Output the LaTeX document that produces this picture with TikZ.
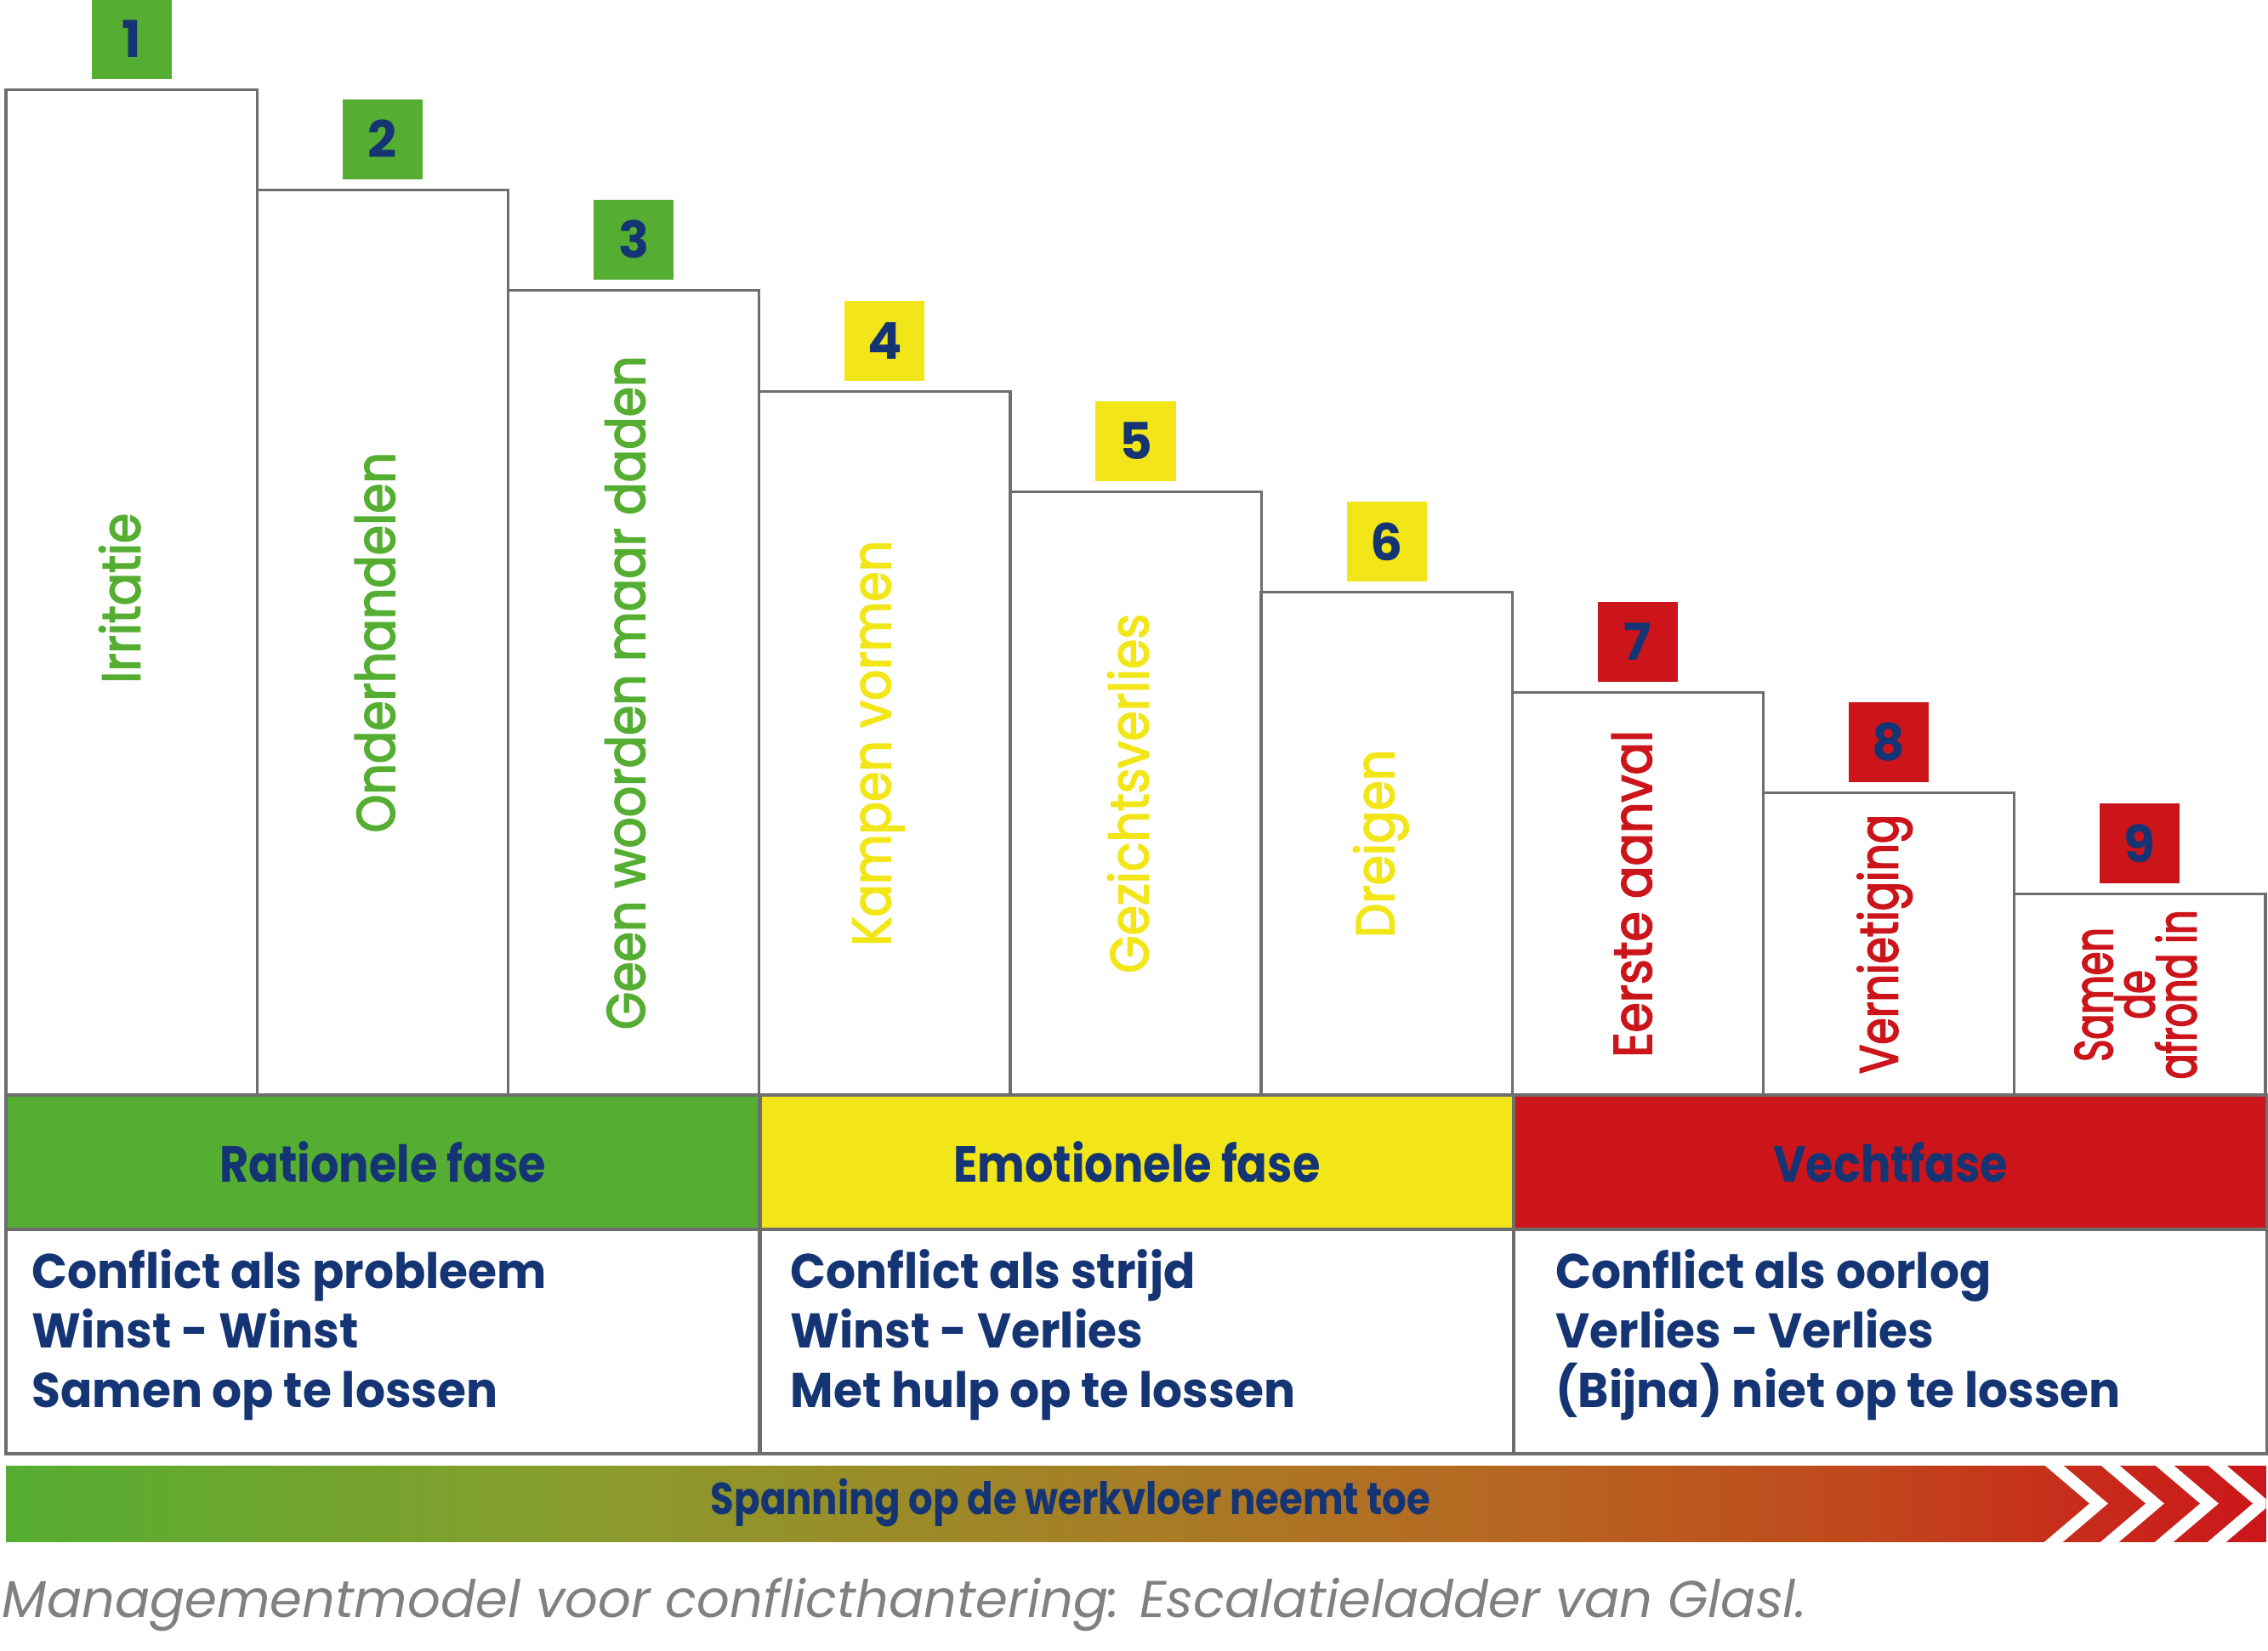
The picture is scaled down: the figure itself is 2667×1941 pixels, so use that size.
\documentclass[tikz,border=0pt]{standalone}
\usepackage{fontspec}
\setmainfont{Poppins}
\newfontfamily\condfont{Poppins}[FakeStretch=0.88]
\newfontfamily\stepfont{Poppins}[FakeStretch=0.9,FakeBold=2.5]
\newfontfamily\squeezefont{Poppins}[FakeStretch=0.8,FakeBold=2.5]
\newfontfamily\narrowfont{Poppins}[FakeStretch=0.7,FakeBold=2.5]
\newfontfamily\bodyfont{Poppins}[FakeStretch=0.96]
\usetikzlibrary{positioning}
\definecolor{ladgreen}{RGB}{85,174,50}
\definecolor{ladyellow}{RGB}{242,230,25}
\definecolor{ladred}{RGB}{204,21,26}
\definecolor{ladnavy}{RGB}{20,52,116}
\definecolor{ladgray}{RGB}{110,110,110}
\definecolor{capgray}{RGB}{128,128,128}
\definecolor{gradolive}{RGB}{138,156,44}
\definecolor{gradbrown}{RGB}{165,128,38}
\definecolor{gradorange}{RGB}{182,104,34}
\definecolor{gradrust}{RGB}{192,72,28}
\pgfdeclarehorizontalshading{tension}{100bp}{color(0bp)=(ladgreen); color(25bp)=(ladgreen);
  color(38bp)=(gradolive); color(49bp)=(gradbrown); color(58bp)=(gradorange);
  color(66bp)=(gradrust); color(75bp)=(ladred); color(100bp)=(ladred)}

\begin{document}
\begin{tikzpicture}[x=0.01cm,y=-0.01cm,
  stepbox/.style={draw=ladgray,line width=0.9pt,minimum width=2.952cm,anchor=south west,inner sep=0pt,outer sep=0pt},
  numbox/.style={fill=#1,minimum size=0.94cm,inner sep=0pt,text=ladnavy,font=\fontsize{17}{17}\selectfont\bfseries},
  steplbl/.style={rotate=90,text=#1,font=\stepfont\fontsize{18}{20}\selectfont,inner sep=0pt},
  phase/.style={draw=ladgray,line width=1.2pt,fill=#1,minimum width=8.86cm,minimum height=1.58cm,inner sep=0pt,outer sep=0pt,text=ladnavy,font=\condfont\fontsize{17}{17}\selectfont\bfseries},
  content/.style={draw=ladgray,line width=1.2pt,minimum width=8.86cm,minimum height=2.64cm,inner sep=0pt,outer sep=0pt},
  ctext/.style={anchor=west,align=left,inner sep=0pt,text=ladnavy,font=\bodyfont\fontsize{16.3}{19.9}\selectfont\bfseries},
  chev/.style={white,line width=4pt}]
\useasboundingbox (0,0) rectangle (2667,1941);
% the ladder
\node[stepbox,minimum height=11.82cm] (s1) at (7,1288) {};
\node[stepbox,minimum height=10.64cm] (s2) at (302.2,1288) {};
\node[stepbox,minimum height=9.46cm] (s3) at (597.4,1288) {};
\node[stepbox,minimum height=8.27cm] (s4) at (892.6,1288) {};
\node[stepbox,minimum height=7.09cm] (s5) at (1187.8,1288) {};
\node[stepbox,minimum height=5.91cm] (s6) at (1483,1288) {};
\node[stepbox,minimum height=4.73cm] (s7) at (1778.2,1288) {};
\node[stepbox,minimum height=3.55cm] (s8) at (2073.4,1288) {};
\node[stepbox,minimum height=2.36cm] (s9) at (2368.6,1288) {};
\node[numbox=ladgreen,above=0.12cm of s1] (n1) {1};
\node[numbox=ladgreen,above=0.12cm of s2] (n2) {2};
\node[numbox=ladgreen,above=0.12cm of s3] (n3) {3};
\node[numbox=ladyellow,above=0.12cm of s4] (n4) {4};
\node[numbox=ladyellow,above=0.12cm of s5] (n5) {5};
\node[numbox=ladyellow,above=0.12cm of s6] (n6) {6};
\node[numbox=ladred,above=0.12cm of s7] (n7) {7};
\node[numbox=ladred,above=0.12cm of s8] (n8) {8};
\node[numbox=ladred,above=0.12cm of s9] (n9) {9};
\node[steplbl=ladgreen] (l1) at ([xshift=-0.14cm,yshift=-0.07cm]s1.center) {Irritatie};
\node[steplbl=ladgreen] (l2) at ([xshift=-0.09cm]s2.center) {Onderhandelen};
\node[steplbl=ladgreen] (l3) at ([xshift=-0.1cm]s3.center) {Geen woorden maar daden};
\node[steplbl=ladyellow] (l4) at ([xshift=-0.07cm]s4.center) {Kampen vormen};
\node[steplbl=ladyellow] (l5) at ([xshift=-0.09cm]s5.center) {Gezichtsverlies};
\node[steplbl=ladyellow] (l6) at ([xshift=-0.07cm]s6.center) {Dreigen};
\node[steplbl=ladred] (l7) at ([xshift=-0.07cm]s7.center) {Eerste aanval};
\node[steplbl=ladred,font=\squeezefont\fontsize{18}{20}\selectfont] (l8) at ([xshift=-0.05cm]s8.center) {Vernietiging};
\node[steplbl=ladred,align=center,font=\narrowfont\fontsize{18}{14}\selectfont] (l9) at ([xshift=-0.05cm]s9.center) {Samen\\de\\afrond in};
% phases
\node[phase=ladgreen,anchor=north west] (ph1) at (7,1288) {Rationele fase};
\node[phase=ladyellow,right=0cm of ph1] (ph2) {Emotionele fase};
\node[phase=ladred,right=0cm of ph2] (ph3) {Vechtfase};
\node[content,below=0cm of ph1] (ct1) {};
\node[content,below=0cm of ph2] (ct2) {};
\node[content,below=0cm of ph3] (ct3) {};
\node[ctext] (tx1) at (37,1570) {Conflict als probleem\\Winst - Winst\\Samen op te lossen};
\node[ctext] (tx2) at (929,1570) {Conflict als strijd\\Winst - Verlies\\Met hulp op te lossen};
\node[ctext] (tx3) at (1829,1570) {Conflict als oorlog\\Verlies - Verlies\\(Bijna) niet op te lossen};
% tension bar
\node[shading=tension,minimum width=26.56cm,minimum height=0.89cm,inner sep=0pt,outer sep=0pt,anchor=north west] (bar) at (7,1724) {};
\begin{scope}
\clip (bar.north west) rectangle (bar.south east);
\draw[chev] (2404,1714) -- (2468,1768.5) -- (2404,1823);
\draw[chev] (2470,1714) -- (2534,1768.5) -- (2470,1823);
\draw[chev] (2534,1714) -- (2598,1768.5) -- (2534,1823);
\draw[chev] (2596,1714) -- (2660,1768.5) -- (2596,1823);
\end{scope}
\node[text=ladnavy,font=\condfont\fontsize{15}{15}\selectfont\bfseries,xscale=0.97] (span) at (1259,1768) {Spanning op de werkvloer neemt toe};
\node[anchor=base west,inner sep=0pt,text=capgray,font=\fontsize{17.3}{20}\selectfont\itshape] (cap) at (2,1902) {Managementmodel voor conflicthantering: Escalatieladder van Glasl.};
\end{tikzpicture}
\end{document}
